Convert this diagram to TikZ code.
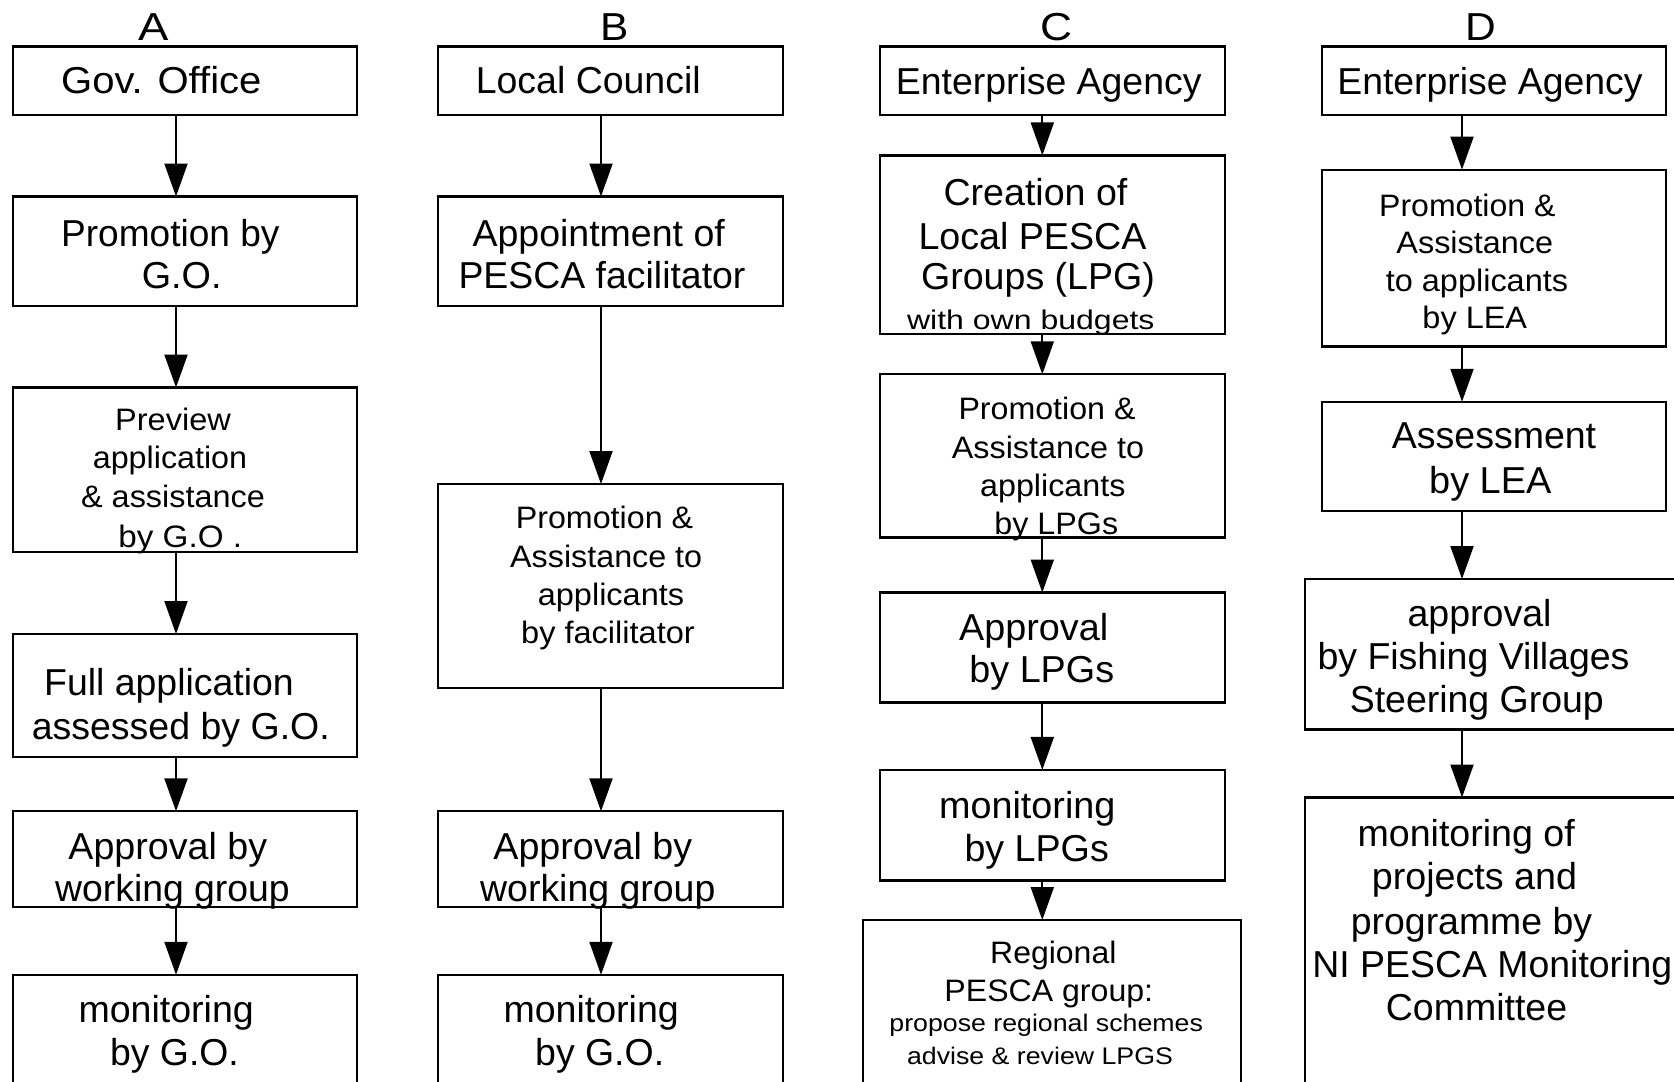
\documentclass[tikz,border=0pt]{standalone}
\usepackage{fontspec}
\setmainfont{Liberation Sans}
\usepackage{graphicx}
\usetikzlibrary{arrows.meta,fit}
\newcommand{\txtline}[6]{\node[txt] (#1) at (#2,#3) {\resizebox{#4pt}{\height}{\fontsize{#5pt}{#5pt}\selectfont #6}};}
\newcommand{\bx}[5]{\node[box, fit={(#2,#3) (#4,#5)}] (#1) {};}
\begin{document}
\begin{tikzpicture}[x=1pt,y=-1pt,
  box/.style={draw, line width=2.2pt, inner sep=0pt, outer sep=0pt},
  arr/.style={line width=2pt, -{Triangle[length=33pt,width=23pt]}},
  txt/.style={inner sep=0pt, outer sep=0pt, anchor=base}]
\useasboundingbox (0,0) rectangle (1674,1082);
\fill[white] (0,0) rectangle (1674,1082);
\clip (0,0) rectangle (1674,1082);

\coordinate (colA) at (176,0);
\coordinate (colB) at (601,0);
\coordinate (colC) at (1042.3,0);
\coordinate (colD) at (1462,0);

% boxes
\bx{a1}{12.7}{46.4}{357.3}{115}
\bx{a2}{12.7}{196.5}{357.3}{306}
\bx{a3}{12.7}{387.5}{357.3}{551.8}
\bx{a4}{12.7}{634}{357.3}{756.7}
\bx{a5}{12.7}{811.3}{357.3}{907}
\bx{a6}{12.7}{974.8}{357.3}{1100}
\bx{b1}{437.7}{46.4}{783.3}{115}
\bx{b2}{437.7}{196.5}{783.3}{306}
\bx{b3}{437.7}{484}{783.3}{688}
\bx{b4}{437.7}{811.3}{783.3}{907}
\bx{b5}{437.7}{974.8}{783.3}{1100}
\bx{c1}{880}{46.4}{1225}{115}
\bx{c2}{880}{155.4}{1225}{334}
\bx{c3}{880}{374.3}{1225}{537.5}
\bx{c4}{880}{592.5}{1225}{702.5}
\bx{c5}{880}{769.9}{1225}{880.5}
\bx{c6}{863.3}{920}{1241}{1100}
\bx{d1}{1321.7}{46.4}{1666.3}{115}
\bx{d2}{1321.7}{169.6}{1666.3}{346.4}
\bx{d3}{1321.7}{401.8}{1666.3}{510.7}
\bx{d4}{1305}{579}{1690}{729.4}
\bx{d5}{1305}{797.5}{1690}{1100}

% arrows
\draw[arr] (a1.south -| colA) -- (a2.north -| colA);
\draw[arr] (a2.south -| colA) -- (a3.north -| colA);
\draw[arr] (a3.south -| colA) -- (a4.north -| colA);
\draw[arr] (a4.south -| colA) -- (a5.north -| colA);
\draw[arr] (a5.south -| colA) -- (a6.north -| colA);
\draw[arr] (b1.south -| colB) -- (b2.north -| colB);
\draw[arr] (b2.south -| colB) -- (b3.north -| colB);
\draw[arr] (b3.south -| colB) -- (b4.north -| colB);
\draw[arr] (b4.south -| colB) -- (b5.north -| colB);
\draw[arr] (c1.south -| colC) -- (c2.north -| colC);
\draw[arr] (c2.south -| colC) -- (c3.north -| colC);
\draw[arr] (c3.south -| colC) -- (c4.north -| colC);
\draw[arr] (c4.south -| colC) -- (c5.north -| colC);
\draw[arr] (c5.south -| colC) -- (c6.north -| colC);
\draw[arr] (d1.south -| colD) -- (d2.north -| colD);
\draw[arr] (d2.south -| colD) -- (d3.north -| colD);
\draw[arr] (d3.south -| colD) -- (d4.north -| colD);
\draw[arr] (d4.south -| colD) -- (d5.north -| colD);

% titles
\txtline{tA}{154}{40}{30.3}{39}{A}
\txtline{tB}{614.8}{40}{28.3}{39}{B}
\txtline{tC}{1056.7}{40}{32}{39}{C}
\txtline{tD}{1481.3}{40}{30.7}{39}{D}

% column A
\txtline{a1t}{161.3}{93.3}{200.3}{37.5}{Gov. Office}
\txtline{a2t1}{170.3}{246.4}{218.3}{37.5}{Promotion by}
\txtline{a2t2}{181.7}{288}{79.7}{37.5}{G.O.}
\txtline{a3t1}{173}{430}{115.7}{31}{Preview}
\txtline{a3t2}{170}{468}{154.3}{31}{application}
\txtline{a3t3}{173}{507}{183.7}{31}{\& assistance}
\txtline{a3t4}{180.3}{547}{123.7}{31}{by G.O .}
\txtline{a4t1}{169}{695.5}{249.7}{37.5}{Full application}
\txtline{a4t2}{180.8}{739.8}{298}{37.5}{assessed by G.O.}
\txtline{a5t1}{167.8}{859.7}{198.7}{37.5}{Approval by}
\txtline{a5t2}{172.5}{901}{234.7}{37.5}{working group}
\txtline{a6t1}{166.2}{1022}{175.3}{37.5}{monitoring}
\txtline{a6t2}{174.5}{1065.4}{128.7}{37.5}{by G.O.}

% column B
\txtline{b1t}{588.3}{93.6}{225}{37.5}{Local Council}
\txtline{b2t1}{598.7}{246.4}{252.3}{37.5}{Appointment of}
\txtline{b2t2}{602}{288}{287}{37.5}{PESCA facilitator}
\txtline{b3t1}{604.5}{528.6}{177.3}{31}{Promotion \&}
\txtline{b3t2}{606.2}{567.7}{192}{31}{Assistance to}
\txtline{b3t3}{611}{605.7}{146.3}{31}{applicants}
\txtline{b3t4}{608}{643}{173.7}{31}{by facilitator}
\txtline{b4t1}{592.8}{859.7}{198.7}{37.5}{Approval by}
\txtline{b4t2}{597.8}{901}{235.3}{37.5}{working group}
\txtline{b5t1}{591.2}{1022}{175.3}{37.5}{monitoring}
\txtline{b5t2}{599.7}{1065.4}{129}{37.5}{by G.O.}

% column C
\txtline{c1t}{1048.7}{94}{305.7}{37.5}{Enterprise Agency}
\txtline{c2t1}{1035.5}{205.4}{184}{37.5}{Creation of}
\txtline{c2t2}{1032.5}{249}{228}{37.5}{Local PESCA}
\txtline{c2t3}{1038}{289.3}{233.7}{37.5}{Groups (LPG)}
\txtline{c2t4}{1030.8}{329.3}{247.5}{27}{with own budgets}
\txtline{c3t1}{1047}{419.6}{177}{31}{Promotion \&}
\txtline{c3t2}{1048}{458}{192.3}{31}{Assistance to}
\txtline{c3t3}{1052.8}{496.4}{145.3}{31}{applicants}
\txtline{c3t4}{1056.3}{534}{123.7}{31}{by LPGs}
\txtline{c4t1}{1033.7}{640}{149}{37.5}{Approval}
\txtline{c4t2}{1041.8}{682.4}{144.7}{37.5}{by LPGs}
\txtline{c5t1}{1027.3}{818.3}{176.3}{37.5}{monitoring}
\txtline{c5t2}{1036.7}{861.5}{144.3}{37.5}{by LPGs}
\txtline{c6t1}{1053.3}{963.4}{126.3}{31}{Regional}
\txtline{c6t2}{1048.8}{1001.5}{208.7}{31}{PESCA group:}
\txtline{c6t3}{1046.2}{1031.7}{313.5}{24}{propose regional schemes}
\txtline{c6t4}{1040}{1064}{265.8}{24}{advise \& review LPGS}

% column D
\txtline{d1t}{1490}{94}{305.3}{37.5}{Enterprise Agency}
\txtline{d2t1}{1467.3}{216}{176.3}{31}{Promotion \&}
\txtline{d2t2}{1474.8}{253.6}{156.7}{31}{Assistance}
\txtline{d2t3}{1477}{291}{182.3}{31}{to applicants}
\txtline{d2t4}{1474.8}{328.6}{104.7}{31}{by LEA}
\txtline{d3t1}{1494}{448}{204.3}{37.5}{Assessment}
\txtline{d3t2}{1490.3}{493}{122.3}{37.5}{by LEA}
\txtline{d4t1}{1479.5}{626.4}{144}{37.5}{approval}
\txtline{d4t2}{1473.5}{669.6}{312}{37.5}{by Fishing Villages}
\txtline{d4t3}{1476.8}{712.8}{254}{37.5}{Steering Group}
\txtline{d5t1}{1466.2}{846}{217.3}{37.5}{monitoring of}
\txtline{d5t2}{1474.5}{889}{205.3}{37.5}{projects and}
\txtline{d5t3}{1471.5}{934}{241.3}{37.5}{programme by}
\txtline{d5t4}{1492.3}{977}{359.7}{37.5}{NI PESCA Monitoring}
\txtline{d5t5}{1476.5}{1020.5}{181.3}{37.5}{Committee}
\end{tikzpicture}
\end{document}
